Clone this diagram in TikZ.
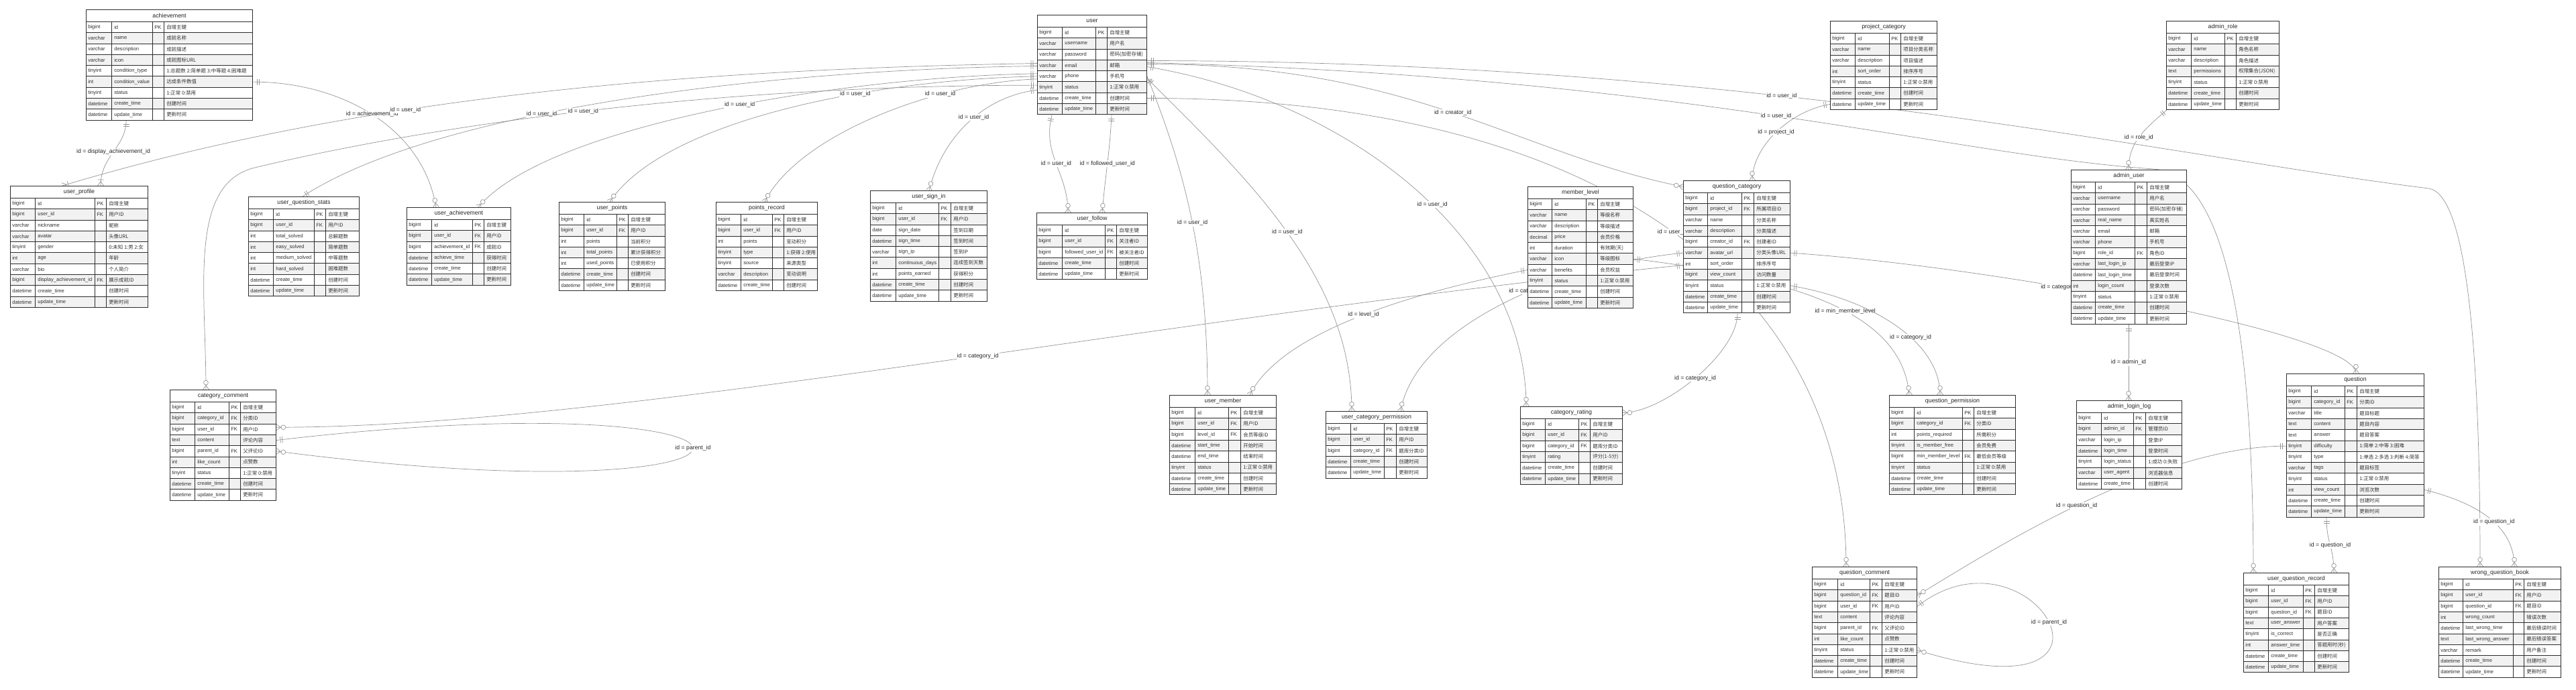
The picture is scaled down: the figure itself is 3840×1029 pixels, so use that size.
\documentclass[tikz,border=0pt]{standalone}
\usepackage{fontspec}
\setmainfont{Liberation Sans}
\newfontfamily\cjk{Noto Sans CJK SC}
\usetikzlibrary{calc,positioning}

\definecolor{rowgray}{RGB}{242,242,242}
\definecolor{gridline}{RGB}{45,45,45}
\definecolor{relgray}{RGB}{150,150,150}

\pgfdeclarelayer{bg}
\pgfsetlayers{bg,main}

% er tips
\pgfdeclarearrow{
  name = onebar,
  setup code = {
    \pgfarrowssettipend{0pt}
    \pgfarrowssetlineend{0pt}
    \pgfarrowssetbackend{-7pt}
  },
  drawing code = {
    \pgfpathmoveto{\pgfqpoint{-4.3pt}{3.2pt}}
    \pgfpathlineto{\pgfqpoint{-4.3pt}{-3.2pt}}
    \pgfpathmoveto{\pgfqpoint{-6.4pt}{3.2pt}}
    \pgfpathlineto{\pgfqpoint{-6.4pt}{-3.2pt}}
    \pgfusepathqstroke
  }
}
\pgfdeclarearrow{
  name = crowz,
  setup code = {
    \pgfarrowssettipend{0pt}
    \pgfarrowssetlineend{0pt}
    \pgfarrowssetbackend{-10pt}
  },
  drawing code = {
    \pgfpathmoveto{\pgfqpoint{0pt}{3.2pt}}
    \pgfpathlineto{\pgfqpoint{-4.6pt}{0pt}}
    \pgfpathlineto{\pgfqpoint{0pt}{-3.2pt}}
    \pgfusepathqstroke
    \pgfpathcircle{\pgfqpoint{-7.4pt}{0pt}}{2.4pt}
    \pgfsetfillcolor{white}
    \pgfusepathqfillstroke
  }
}
\pgfdeclarearrow{
  name = crowone,
  setup code = {
    \pgfarrowssettipend{0pt}
    \pgfarrowssetlineend{0pt}
    \pgfarrowssetbackend{-7pt}
  },
  drawing code = {
    \pgfpathmoveto{\pgfqpoint{0pt}{3.2pt}}
    \pgfpathlineto{\pgfqpoint{-4.6pt}{0pt}}
    \pgfpathlineto{\pgfqpoint{0pt}{-3.2pt}}
    \pgfpathmoveto{\pgfqpoint{-6.4pt}{3.2pt}}
    \pgfpathlineto{\pgfqpoint{-6.4pt}{-3.2pt}}
    \pgfusepathqstroke
  }
}

\def\pxu{0.025cm}
\def\rowh{16.3}

\tikzset{
  tblhead/.style={draw=gridline, line width=0.7pt, fill=white, inner sep=0pt,
    minimum height=18*\pxu, font=\fontsize{6.3}{7}\selectfont, text=black!85},
  tblrow/.style={draw=gridline, line width=0.7pt, inner sep=0pt, minimum height=\rowh*\pxu},
  celltxt/.style={anchor=west, inner sep=0pt, font=\fontsize{5.4}{6}\selectfont, text=black!80},
  cmttxt/.style={celltxt, font=\cjk\fontsize{5.3}{6}\selectfont},
  tblline/.style={draw=gridline, line width=0.7pt},
  rel/.style={draw=relgray, line width=0.5pt},
  lbl/.style={fill=white, inner sep=0.8pt, font=\fontsize{6.2}{7}\selectfont, text=black!85},
}

% #1 name, #2 left, #3 top, #4-#7 column widths, #8 title, #9 rows
\newcommand{\dbtable}[9]{%
  \pgfmathsetmacro{\cA}{#4}%
  \pgfmathsetmacro{\cB}{#4+#5}%
  \pgfmathsetmacro{\cC}{#4+#5+#6}%
  \pgfmathsetmacro{\cW}{#4+#5+#6+#7}%
  \node[tblhead, minimum width=\cW*\pxu, anchor=north west] (#1) at (#2,#3) {#8};
  \foreach \ty/\nm/\ky/\cm [count=\i] in {#9} {
    \pgfmathsetmacro{\yy}{#3+18+(\i-1)*\rowh}
    \ifodd\i\relax \def\rowfill{white}\else \def\rowfill{rowgray}\fi
    \node[tblrow, fill=\rowfill, minimum width=\cW*\pxu, anchor=north west] (#1-\i) at (#2,\yy) {};
    \node[celltxt] (#1-\i-a) at ($(#1-\i.west)+(3,0)$) {\ty};
    \node[celltxt] (#1-\i-b) at ($(#1-\i.west)+(\cA+4,0)$) {\nm};
    \node[celltxt] (#1-\i-c) at ($(#1-\i.west)+(\cB+3,0)$) {\ky};
    \node[cmttxt] (#1-\i-d) at ($(#1-\i.west)+(\cC+4,0)$) {\cm};
    \draw[tblline] ($(#1-\i.north west)+(\cA,0)$) -- ($(#1-\i.south west)+(\cA,0)$);
    \draw[tblline] ($(#1-\i.north west)+(\cB,0)$) -- ($(#1-\i.south west)+(\cB,0)$);
    \draw[tblline] ($(#1-\i.north west)+(\cC,0)$) -- ($(#1-\i.south west)+(\cC,0)$);
  }
}

\begin{document}
\catcode`\_=12
\begin{tikzpicture}[x=0.025cm, y=-0.025cm]
\useasboundingbox (0,0) rectangle (3840,1029);

% tables
\dbtable{ach}{128}{14}{38}{61}{17}{132}{achievement}{
  bigint/id/PK/自增主键,
  varchar/name//成就名称,
  varchar/description//成就描述,
  varchar/icon//成就图标URL,
  tinyint/condition_type//1:总题数 2:简单题 3:中等题 4:困难题,
  int/condition_value//达成条件数值,
  tinyint/status//1:正常 0:禁用,
  datetime/create_time//创建时间,
  datetime/update_time//更新时间}

\dbtable{usr}{1546}{22}{37}{50}{17}{59}{user}{
  bigint/id/PK/自增主键,
  varchar/username//用户名,
  varchar/password//密码(加密存储),
  varchar/email//邮箱,
  varchar/phone//手机号,
  tinyint/status//1:正常 0:禁用,
  datetime/create_time//创建时间,
  datetime/update_time//更新时间}

\dbtable{pcat}{2728}{31}{37}{51}{17}{54}{project_category}{
  bigint/id/PK/自增主键,
  varchar/name//项目分类名称,
  varchar/description//项目描述,
  int/sort_order//排序序号,
  tinyint/status//1:正常 0:禁用,
  datetime/create_time//创建时间,
  datetime/update_time//更新时间}

\dbtable{arole}{3229}{31}{37}{50}{17}{64}{admin_role}{
  bigint/id/PK/自增主键,
  varchar/name//角色名称,
  varchar/description//角色描述,
  text/permissions//权限集合(JSON),
  tinyint/status//1:正常 0:禁用,
  datetime/create_time//创建时间,
  datetime/update_time//更新时间}

\dbtable{uprof}{15}{277}{37}{89}{17}{62}{user_profile}{
  bigint/id/PK/自增主键,
  bigint/user_id/FK/用户ID,
  varchar/nickname//昵称,
  varchar/avatar//头像URL,
  tinyint/gender//0:未知 1:男 2:女,
  int/age//年龄,
  varchar/bio//个人简介,
  bigint/display_achievement_id/FK/展示成就ID,
  datetime/create_time//创建时间,
  datetime/update_time//更新时间}

\dbtable{uqs}{370}{293}{37}{61}{17}{50}{user_question_stats}{
  bigint/id/PK/自增主键,
  bigint/user_id/FK/用户ID,
  int/total_solved//总解题数,
  int/easy_solved//简单题数,
  int/medium_solved//中等题数,
  int/hard_solved//困难题数,
  datetime/create_time//创建时间,
  datetime/update_time//更新时间}

\dbtable{uach}{606}{309}{37}{61}{17}{40}{user_achievement}{
  bigint/id/PK/自增主键,
  bigint/user_id/FK/用户ID,
  bigint/achievement_id/FK/成就ID,
  datetime/achieve_time//获得时间,
  datetime/create_time//创建时间,
  datetime/update_time//更新时间}

\dbtable{upts}{833}{301}{37}{49}{17}{55}{user_points}{
  bigint/id/PK/自增主键,
  bigint/user_id/FK/用户ID,
  int/points//当前积分,
  int/total_points//累计获得积分,
  int/used_points//已使用积分,
  datetime/create_time//创建时间,
  datetime/update_time//更新时间}

\dbtable{prec}{1067}{301}{37}{47}{17}{50}{points_record}{
  bigint/id/PK/自增主键,
  bigint/user_id/FK/用户ID,
  int/points//变动积分,
  tinyint/type//1:获得 2:使用,
  tinyint/source//来源类型,
  varchar/description//变动说明,
  datetime/create_time//创建时间}

\dbtable{usign}{1297}{284}{38}{64}{18}{54}{user_sign_in}{
  bigint/id/PK/自增主键,
  bigint/user_id/FK/用户ID,
  date/sign_date//签到日期,
  datetime/sign_time//签到时间,
  varchar/sign_ip//签到IP,
  int/continuous_days//连续签到天数,
  int/points_earned//获得积分,
  datetime/create_time//创建时间,
  datetime/update_time//更新时间}

\dbtable{ufol}{1545}{317}{38}{64}{17}{46}{user_follow}{
  bigint/id/PK/自增主键,
  bigint/user_id/FK/关注者ID,
  bigint/followed_user_id/FK/被关注者ID,
  datetime/create_time//创建时间,
  datetime/update_time//更新时间}

\dbtable{mlvl}{2277}{278}{36}{51}{17}{53}{member_level}{
  bigint/id/PK/自增主键,
  varchar/name//等级名称,
  varchar/description//等级描述,
  decimal/price//会员价格,
  int/duration//有效期(天),
  varchar/icon//等级图标,
  varchar/benefits//会员权益,
  tinyint/status//1:正常 0:禁用,
  datetime/create_time//创建时间,
  datetime/update_time//更新时间}

\dbtable{qcat}{2509}{269}{36}{51}{18}{54}{question_category}{
  bigint/id/PK/自增主键,
  bigint/project_id/FK/所属项目ID,
  varchar/name//分类名称,
  varchar/description//分类描述,
  bigint/creator_id/FK/创建者ID,
  varchar/avatar_url//分类头像URL,
  int/sort_order//排序序号,
  bigint/view_count//访问数量,
  tinyint/status//1:正常 0:禁用,
  datetime/create_time//创建时间,
  datetime/update_time//更新时间}

\dbtable{auser}{3087}{253}{36}{59}{18}{59}{admin_user}{
  bigint/id/PK/自增主键,
  varchar/username//用户名,
  varchar/password//密码(加密存储),
  varchar/real_name//真实姓名,
  varchar/email//邮箱,
  varchar/phone//手机号,
  bigint/role_id/FK/角色ID,
  varchar/last_login_ip//最后登录IP,
  datetime/last_login_time//最后登录时间,
  int/login_count//登录次数,
  tinyint/status//1:正常 0:禁用,
  datetime/create_time//创建时间,
  datetime/update_time//更新时间}

\dbtable{alog}{3095}{597}{37}{48}{18}{54}{admin_login_log}{
  bigint/id/PK/自增主键,
  bigint/admin_id/FK/管理员ID,
  varchar/login_ip//登录IP,
  datetime/login_time//登录时间,
  tinyint/login_status//1:成功 0:失败,
  varchar/user_agent//浏览器信息,
  datetime/create_time//创建时间}

\dbtable{ccom}{253}{581}{37}{51}{17}{53}{category_comment}{
  bigint/id/PK/自增主键,
  bigint/category_id/FK/分类ID,
  bigint/user_id/FK/用户ID,
  text/content//评论内容,
  bigint/parent_id/FK/父评论ID,
  int/like_count//点赞数,
  tinyint/status//1:正常 0:禁用,
  datetime/create_time//创建时间,
  datetime/update_time//更新时间}

\dbtable{umem}{1743}{589}{38}{50}{18}{53}{user_member}{
  bigint/id/PK/自增主键,
  bigint/user_id/FK/用户ID,
  bigint/level_id/FK/会员等级ID,
  datetime/start_time//开始时间,
  datetime/end_time//结束时间,
  tinyint/status//1:正常 0:禁用,
  datetime/create_time//创建时间,
  datetime/update_time//更新时间}

\dbtable{ucp}{1976}{613}{37}{50}{18}{46}{user_category_permission}{
  bigint/id/PK/自增主键,
  bigint/user_id/FK/用户ID,
  bigint/category_id/FK/题库分类ID,
  datetime/create_time//创建时间,
  datetime/update_time//更新时间}

\dbtable{crat}{2266}{606}{37}{50}{17}{48}{category_rating}{
  bigint/id/PK/自增主键,
  bigint/user_id/FK/用户ID,
  bigint/category_id/FK/题库分类ID,
  tinyint/rating//评分(1-5分),
  datetime/create_time//创建时间,
  datetime/update_time//更新时间}

\dbtable{qperm}{2816}{589}{37}{72}{17}{62}{question_permission}{
  bigint/id/PK/自增主键,
  bigint/category_id/FK/分类ID,
  int/points_required//所需积分,
  tinyint/is_member_free//会员免费,
  bigint/min_member_level/FK/最低会员等级,
  tinyint/status//1:正常 0:禁用,
  datetime/create_time//创建时间,
  datetime/update_time//更新时间}

\dbtable{ques}{3408}{557}{37}{50}{18}{100}{question}{
  bigint/id/PK/自增主键,
  bigint/category_id/FK/分类ID,
  varchar/title//题目标题,
  text/content//题目内容,
  text/answer//题目答案,
  tinyint/difficulty//1:简单 2:中等 3:困难,
  tinyint/type//1:单选 2:多选 3:判断 4:简答,
  varchar/tags//题目标签,
  tinyint/status//1:正常 0:禁用,
  int/view_count//浏览次数,
  datetime/create_time//创建时间,
  datetime/update_time//更新时间}

\dbtable{qcom}{2701}{845}{38}{48}{18}{52}{question_comment}{
  bigint/id/PK/自增主键,
  bigint/question_id/FK/题目ID,
  bigint/user_id/FK/用户ID,
  text/content//评论内容,
  bigint/parent_id/FK/父评论ID,
  int/like_count//点赞数,
  tinyint/status//1:正常 0:禁用,
  datetime/create_time//创建时间,
  datetime/update_time//更新时间}

\dbtable{uqr}{3344}{854}{37}{52}{17}{51}{user_question_record}{
  bigint/id/PK/自增主键,
  bigint/user_id/FK/用户ID,
  bigint/question_id/FK/题目ID,
  text/user_answer//用户答案,
  tinyint/is_correct//是否正确,
  int/answer_time//答题用时(秒),
  datetime/create_time//创建时间,
  datetime/update_time//更新时间}

\dbtable{wqb}{3635}{845}{36}{75}{16}{55}{wrong_question_book}{
  bigint/id/PK/自增主键,
  bigint/user_id/FK/用户ID,
  bigint/question_id/FK/题目ID,
  int/wrong_count//错误次数,
  datetime/last_wrong_time//最后错误时间,
  text/last_wrong_answer//最后错误答案,
  varchar/remark//用户备注,
  datetime/create_time//创建时间,
  datetime/update_time//更新时间}

% relations, behind the tables
\begin{pgfonlayer}{bg}
\fill[white] (0,0) rectangle (3840,1029);

% achievement
\draw[rel, arrows={onebar-crowone}] ($(ach-9.south west)+(60,0)$) .. controls +(0,40) and +(0,-45) .. node[lbl, pos=0.5] {id = display_achievement_id} ($(uprof.north west)+(135,0)$);
\draw[rel, arrows={onebar-crowz}] (ach-6.east) .. controls +(130,0) and +(-20,-120) .. node[lbl, pos=0.5] {id = achievement_id} ($(uach.north west)+(44,0)$);

% user, left side
\draw[rel, arrows={onebar-crowone}] ($(usr-4.west)+(0,-3)$) .. controls +(-600,10) and +(400,-120) .. node[lbl, pos=0.6] {id = user_id} ($(uprof.north west)+(78,0)$);
\draw[rel, arrows={onebar-onebar}] ($(usr-4.west)+(0,1)$) .. controls +(-400,5) and +(200,-130) .. node[lbl, pos=0.6] {id = user_id} ($(uqs.north west)+(81,0)$);
\draw[rel, arrows={onebar-crowz}] ($(usr-5.west)+(0,-4)$) .. controls +(-300,5) and +(100,-120) .. node[lbl, pos=0.45] {id = user_id} ($(uach.north west)+(107,0)$);
\draw[rel, arrows={onebar-crowz}] (usr-5.west) .. controls +(-250,5) and +(80,-120) .. node[lbl, pos=0.35] {id = user_id} ($(upts.north west)+(76,0)$);
\draw[rel, arrows={onebar-crowz}] ($(usr-5.west)+(0,4)$) .. controls +(-150,5) and +(50,-100) .. node[lbl, pos=0.3] {id = user_id} ($(prec.north west)+(73,0)$);
\draw[rel, arrows={onebar-crowz}] ($(usr-6.west)+(0,-3)$) .. controls +(-500,0) and +(250,-60) .. node[lbl, pos=0.5] {id = user_id} (380,250) .. controls +(-100,24) and +(0,-150) .. ($(ccom.north west)+(54,0)$);
\draw[rel, arrows={onebar-crowz}] ($(usr-6.west)+(0,4)$) .. controls +(-80,10) and +(20,-80) .. node[lbl, pos=0.45] {id = user_id} ($(usign.north west)+(88,0)$);

% user, bottom side
\draw[rel, arrows={onebar-crowz}] ($(usr-8.south west)+(22,0)$) .. controls +(-15,60) and +(0,-60) .. node[lbl, pos=0.5] {id = user_id} ($(ufol.north west)+(47,0)$);
\draw[rel, arrows={onebar-crowz}] ($(usr-8.south west)+(111,0)$) .. controls +(-3,60) and +(5,-60) .. node[lbl, pos=0.5] {id = followed_user_id} ($(ufol.north west)+(98,0)$);

% user, right side
\draw[rel, arrows={onebar-crowz}] ($(usr-4.east)+(0,-2)$) .. controls +(400,0) and +(-250,-50) .. node[lbl, pos=0.5] {id = creator_id} (qcat.west);
\draw[rel, arrows={onebar-crowz}] (usr-5.east) .. controls +(60,150) and +(0,-200) .. node[lbl, pos=0.5] {id = user_id} ($(umem.north west)+(57,0)$);
\draw[rel, arrows={onebar-crowz}] ($(usr-5.east)+(0,3)$) .. controls +(150,150) and +(0,-200) .. node[lbl, pos=0.5] {id = user_id} ($(ucp.north west)+(39,0)$);
\draw[rel, arrows={onebar-crowz}] ($(usr-4.east)+(0,2)$) .. controls +(300,50) and +(0,-250) .. node[lbl, pos=0.55] {id = user_id} ($(crat.north west)+(9,0)$);
\draw[rel, arrows={onebar-crowz}] (usr-7.east) .. controls +(700,0) and +(0,-400) .. node[lbl, pos=0.5] {id = user_id} ($(qcom.north west)+(51,0)$);
\draw[rel, arrows={onebar-crowz}] ($(usr-4.east)+(0,-4)$) .. controls +(800,20) and +(-300,-20) .. node[lbl, pos=0.5] {id = user_id} (3210,252) .. controls +(120,8) and +(0,-300) .. ($(uqr.north west)+(15,0)$);
\draw[rel, arrows={onebar-crowz}] ($(usr-4.east)+(0,-7)$) .. controls +(900,0) and +(-400,-50) .. node[lbl, pos=0.4] {id = user_id} (3620,281) .. controls +(60,7.5) and +(0,-300) .. ($(wqb.north west)+(62,0)$);

% categories, roles and levels
\draw[rel, arrows={onebar-crowz}] (pcat-7.west) .. controls +(-60,10) and +(0,-50) .. node[lbl, pos=0.5] {id = project_id} ($(qcat.north west)+(103,0)$);
\draw[rel, arrows={onebar-crowz}] ($(arole-7.south west)+(1,0)$) .. controls +(-35,30) and +(0,-40) .. node[lbl, pos=0.5] {id = role_id} ($(auser.north west)+(86,0)$);
\draw[rel, arrows={onebar-crowz}] ($(auser-13.south west)+(86,0)$) -- node[lbl, pos=0.5] {id = admin_id} ($(alog.north west)+(78,0)$);
\draw[rel, arrows={onebar-crowz}] (mlvl-7.west) .. controls +(-150,30) and +(50,-100) .. node[lbl, pos=0.5] {id = level_id} ($(umem.north west)+(120,0)$);
\draw[rel, arrows={onebar-crowz}] (mlvl-6.east) .. controls +(250,30) and +(-10,-120) .. node[lbl, pos=0.55] {id = min_member_level} ($(qperm.north west)+(30,0)$);
\draw[rel, arrows={onebar-crowz}] ($(qcat-7.west)+(0,2)$) .. controls +(-800,80) and +(500,0) .. node[lbl, pos=0.45] {id = category_id} ($(ccom-3.east)+(0,-3)$);
\draw[rel, arrows={onebar-crowz}] (qcat-6.west) .. controls +(-200,20) and +(20,-120) .. node[lbl, pos=0.4] {id = category_id} ($(ucp.north west)+(112,0)$);
\draw[rel, arrows={onebar-crowz}] ($(qcat-11.south west)+(81,0)$) .. controls +(0,60) and +(60,0) .. node[lbl, pos=0.5] {id = category_id} (crat.east);
\draw[rel, arrows={onebar-crowz}] (qcat-9.east) .. controls +(120,20) and +(0,-80) .. node[lbl, pos=0.6] {id = category_id} ($(qperm.north west)+(76,0)$);
\draw[rel, arrows={onebar-crowz}] (qcat-6.east) .. controls +(300,20) and +(0,-60) .. node[lbl, pos=0.38] {id = category_id} ($(ques.north west)+(104,0)$);
\draw[rel, arrows={onebar-crowz}] (ccom-4.east) .. controls (1240,560) and (1240,780) .. node[lbl, pos=0.5] {id = parent_id} (ccom-5.east);

% questions
\draw[rel, arrows={onebar-crowz}] (ques-6.west) .. controls +(-200,0) and +(100,-60) .. node[lbl, pos=0.5] {id = question_id} (qcom-2.east);
\draw[rel, arrows={onebar-crowz}] ($(ques-12.south west)+(60,0)$) .. controls +(0,40) and +(0,-40) .. node[lbl, pos=0.5] {id = question_id} ($(uqr.north west)+(135,0)$);
\draw[rel, arrows={onebar-crowz}] (ques-10.east) .. controls +(80,20) and +(0,-60) .. node[lbl, pos=0.55] {id = question_id} ($(wqb.north west)+(113,0)$);
\draw[rel, arrows={onebar-crowz}] (qcom-3.east) .. controls (3030,770) and (3210,1080) .. node[lbl, pos=0.5] {id = parent_id} (qcom-7.east);
\end{pgfonlayer}
\end{tikzpicture}
\end{document}
